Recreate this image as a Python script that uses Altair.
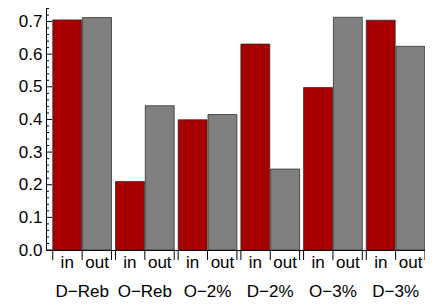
import altair as alt
import pandas as pd

groups = ["D−Reb", "O−Reb", "O−2%", "D−2%", "O−3%", "D−3%"]
subs = ["in", "out"]
in_vals = [0.705, 0.210, 0.399, 0.631, 0.498, 0.704]
out_vals = [0.712, 0.442, 0.415, 0.248, 0.713, 0.624]
major_ticks = [0.0, 0.1, 0.2, 0.3, 0.4, 0.5, 0.6, 0.7]
minor_ticks = [0.02, 0.04, 0.06, 0.08, 0.12, 0.14, 0.16, 0.18,
               0.22, 0.24, 0.26, 0.28, 0.32, 0.34, 0.36, 0.38,
               0.42, 0.44, 0.46, 0.48, 0.52, 0.54, 0.56, 0.58,
               0.62, 0.64, 0.66, 0.68, 0.72, 0.74]

rows = []
for g, a, b in zip(groups, in_vals, out_vals):
    rows.append({"group": g, "sub": "in", "value": a})
    rows.append({"group": g, "sub": "out", "value": b})
df = pd.DataFrame(rows)

W, H = 379, 242
FONT = "Liberation Sans"
FS = 17

xscale = alt.Scale(domain=groups, paddingInner=0.0635, paddingOuter=0.054, align=1)
offscale = alt.Scale(domain=subs, paddingInner=0.03)
yscale = alt.Scale(domain=[0, 0.7414], nice=False, zero=True)

xaxis = alt.Axis(ticks=False, tickSize=0, labelPadding=46.2, labelBaseline="alphabetic",
                 labelAngle=0, labelFont=FONT, labelFontSize=FS, labelColor="black",
                 domainColor="black", domainWidth=1, grid=False, title=None)
yaxis = alt.Axis(values=major_ticks, format=".1f", ticks=False, tickSize=0, labelPadding=4,
                 labelFont=FONT, labelFontSize=FS, labelColor="black",
                 domainColor="black", domainWidth=1, grid=False, title=None)

bars = alt.Chart(df).mark_bar(stroke="#2a2a2a", strokeOpacity=0.75, strokeWidth=1).encode(
    x=alt.X("group:N", scale=xscale, title=None, axis=xaxis),
    xOffset=alt.XOffset("sub:N", scale=offscale),
    y=alt.Y("value:Q", scale=yscale, title=None, axis=yaxis),
    color=alt.Color("sub:N", scale=alt.Scale(domain=subs, range=["#A80000", "#808080"]), legend=None),
)

sublabels = alt.Chart(df).mark_text(font=FONT, fontSize=FS, baseline="alphabetic", align="center",
                                    color="black").encode(
    x=alt.X("group:N", scale=xscale, title=None, axis=xaxis),
    xOffset=alt.XOffset("sub:N", scale=offscale),
    y=alt.value(H + 17.5),
    text="sub:N",
)

tick_df = pd.DataFrame({"group": groups})
xticks = [
    alt.Chart(tick_df).mark_rule(color="black", strokeWidth=1).encode(
        x=alt.X("group:N", scale=xscale, bandPosition=bp, title=None, axis=xaxis),
        y=alt.value(H),
        y2=alt.value(H + 10),
    )
    for bp in (0, 0.5, 1)
]

ymaj = alt.Chart(pd.DataFrame({"value": major_ticks})).mark_rule(color="black", strokeWidth=1).encode(
    y=alt.Y("value:Q", scale=yscale, title=None, axis=yaxis),
    x=alt.value(0), x2=alt.value(6),
)
ymin = alt.Chart(pd.DataFrame({"value": minor_ticks})).mark_rule(color="black", strokeWidth=1).encode(
    y=alt.Y("value:Q", scale=yscale, title=None, axis=yaxis),
    x=alt.value(0), x2=alt.value(3),
)

chart = alt.layer(bars, sublabels, *xticks, ymaj, ymin).properties(
    width=W, height=H,
    autosize=alt.AutoSizeParams(type="none"),
    padding={"left": 38, "top": 0, "right": 0, "bottom": 50},
).configure_view(stroke=None)

chart.save("out.html", embed_options={"renderer": "svg", "actions": False})
